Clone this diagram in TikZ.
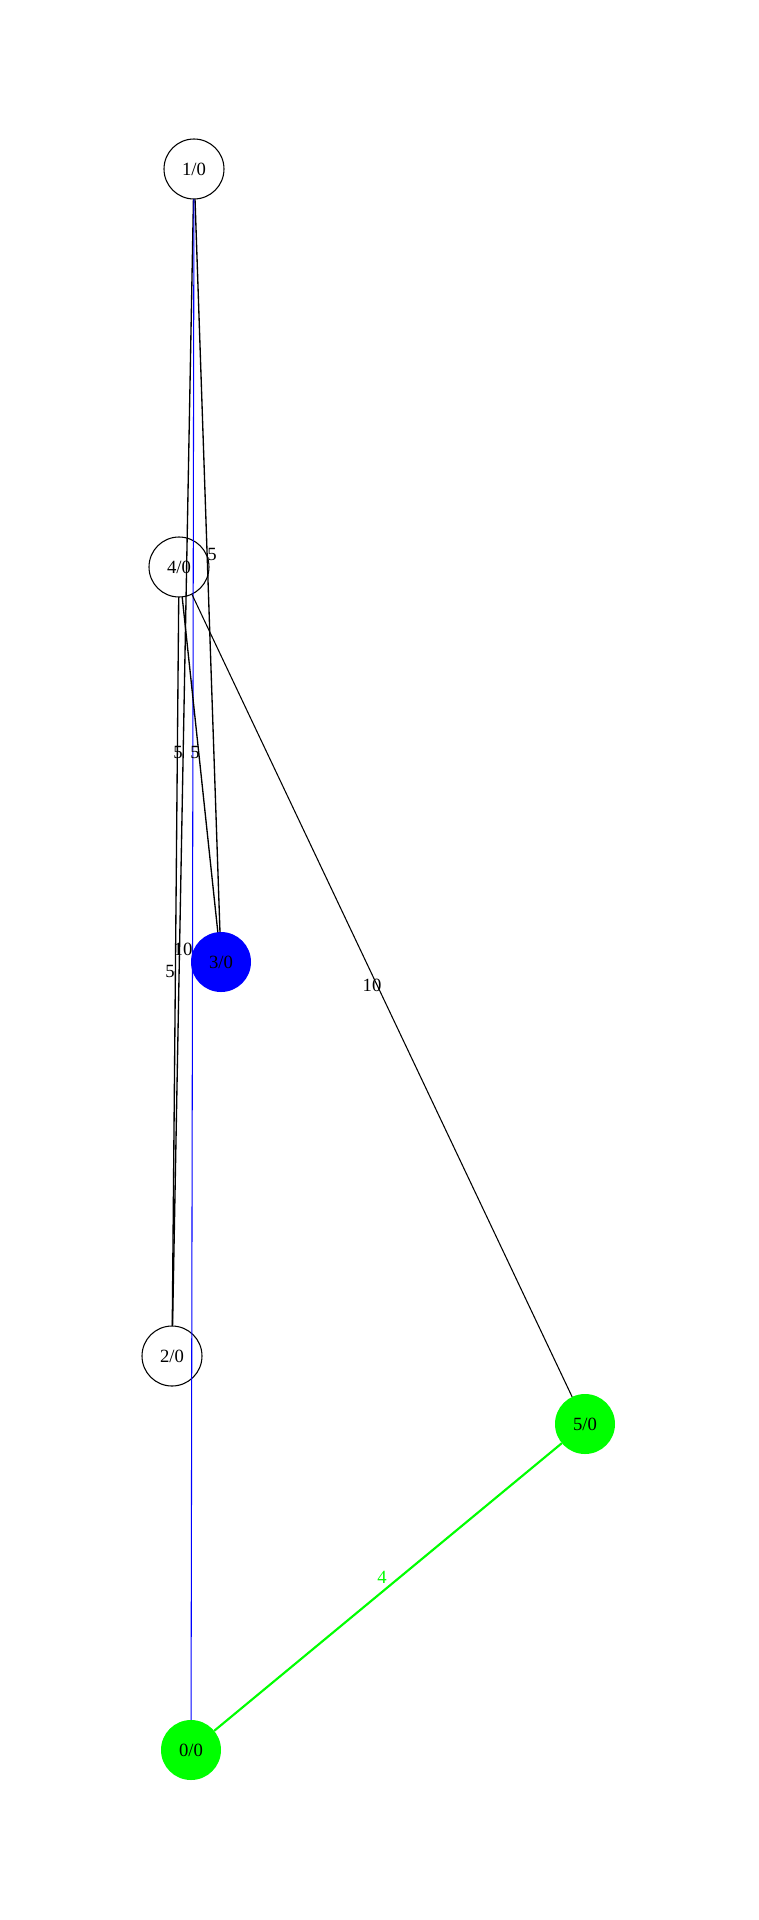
\documentclass[tikz,border=0pt]{standalone}
\usepackage{fontspec}
\setmainfont{Liberation Serif}
\usepackage{tikz}
\definecolor{lime}{RGB}{0,255,0}
\definecolor{pureblue}{RGB}{0,0,255}

\begin{document}
\begin{tikzpicture}[line cap=round,line join=round,x=0.75pt,y=-0.75pt,
    vertex/.style={circle,minimum size=45pt,inner sep=0pt,font=\fontsize{14}{16}\selectfont},
    plain/.style={vertex,draw=black,line width=0.8pt},
    weight/.style={inner sep=0pt,font=\fontsize{14}{16}\selectfont}]
    \useasboundingbox (0,0) rectangle (758,1920);
    \node[plain] (v1) at (194,169) {1/0};
    \node[plain] (v4) at (179,567) {4/0};
    \node[vertex,fill=pureblue] (v3) at (221,962) {3/0};
    \node[plain] (v2) at (172,1356) {2/0};
    \node[vertex,fill=lime] (v5) at (585,1424) {5/0};
    \node[vertex,fill=lime] (v0) at (191,1750) {0/0};
    \draw [line width=1pt] (v1) -- (v3);
    \draw [line width=1pt] (v1) -- (v2);
    \draw [line width=0.8pt,color=pureblue] (v1) -- (v0);
    \draw [line width=1pt] (v4) -- (v3);
    \draw [line width=1pt] (v4) -- (v2);
    \draw [line width=0.8pt] (v4) -- (v5);
    \draw [line width=1.6pt,color=lime] (v5) -- (v0);
    \node[weight] (w13) at (212,554) {5};
    \node[weight] (w12) at (178,752) {5};
    \node[weight] (w43) at (195,752) {5};
    \node[weight] (w10) at (183,949) {10};
    \node[weight] (w42) at (170,971) {5};
    \node[weight] (w45) at (372,985) {10};
    \node[weight,color=lime] (w50) at (382,1577) {4};
\end{tikzpicture}
\end{document}
